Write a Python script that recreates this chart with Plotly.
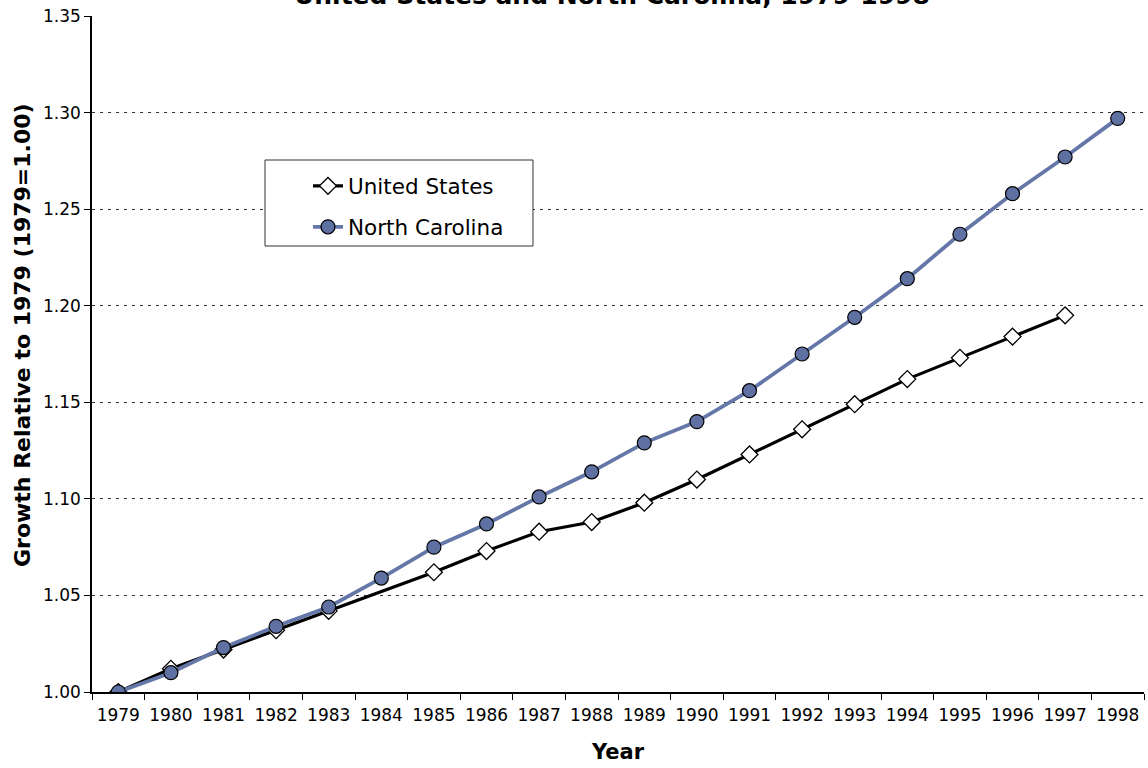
import plotly.graph_objects as go

# Annual growth indices, 1979 = 1.00
years = [str(y) for y in range(1979, 1999)]
us_growth = [1.000, 1.012, 1.022, 1.032, 1.042, None, 1.062, 1.073, 1.083, 1.088,
             1.098, 1.110, 1.123, 1.136, 1.149, 1.162, 1.173, 1.184, 1.195, None]
nc_growth = [1.000, 1.010, 1.023, 1.034, 1.044, 1.059, 1.075, 1.087, 1.101, 1.114,
             1.129, 1.140, 1.156, 1.175, 1.194, 1.214, 1.237, 1.258, 1.277, 1.297]
y_ticks = [1.00, 1.05, 1.10, 1.15, 1.20, 1.25, 1.30, 1.35]

FONT = "DejaVu Sans, Verdana, sans-serif"

fig = go.Figure()
fig.add_trace(go.Scatter(
    x=years, y=us_growth, name="United States", mode="lines+markers",
    connectgaps=True, legendgroup="us",
    line=dict(color="#000000", width=3.2),
    marker=dict(symbol="diamond", size=13, color="#ffffff",
                line=dict(color="#000000", width=1.3)),
))
fig.add_trace(go.Scatter(
    x=years, y=nc_growth, name="North Carolina", mode="lines+markers",
    legendgroup="nc",
    line=dict(color="#6577A8", width=3.8),
    marker=dict(symbol="circle", size=14, color="#5F71A3",
                line=dict(color="#000000", width=1.2)),
))

fig.update_layout(
    width=1148, height=768,
    margin=dict(l=92, r=4, t=16, b=76),
    paper_bgcolor="#ffffff", plot_bgcolor="#ffffff",
    font=dict(family=FONT, color="#000000", size=17),
    showlegend=True,
    legend=dict(x=0.2053, y=0.779, xanchor="left", yanchor="top",
                bgcolor="rgba(0,0,0,0)", borderwidth=0,
                font=dict(family=FONT, size=21.5, color="#000000"),
                traceorder="grouped", tracegroupgap=10),
    xaxis=dict(
        type="category", range=[-0.5, 19.5],
        tickson="boundaries", ticks="outside", ticklen=6, tickcolor="#000000",
        showline=True, linecolor="#000000", linewidth=1.5,
        showgrid=False, zeroline=False,
        tickfont=dict(family=FONT, size=17), ticklabelstandoff=7,
        title=dict(text="<b>Year</b>", font=dict(family=FONT, size=21), standoff=20),
    ),
    yaxis=dict(
        range=[1.0, 1.35], tickvals=y_ticks, tickformat=".2f",
        ticks="outside", ticklen=6, tickcolor="#000000",
        showline=True, linecolor="#000000", linewidth=1.5,
        showgrid=True, gridcolor="#333333", gridwidth=1, griddash="3px,5px",
        zeroline=False,
        tickfont=dict(family=FONT, size=17),
    ),
    shapes=[dict(
        type="rect", xref="paper", yref="paper",
        x0=0.16445, x1=0.4192, y0=0.65976, y1=0.78698,
        line=dict(color="#333333", width=1), fillcolor="#ffffff", layer="above",
    )],
    annotations=[
        dict(text="<b>United States and North Carolina, 1979-1998</b>",
             xref="paper", yref="paper", x=0.4943, y=1.030,
             xanchor="center", yanchor="middle", showarrow=False,
             font=dict(family=FONT, size=25, color="#000000")),
        dict(text="<b>Growth Relative to 1979 (1979=1.00)</b>",
             textangle=-90, xref="paper", yref="paper",
             x=-0.0666, y=0.528, xanchor="center", yanchor="middle",
             showarrow=False, font=dict(family=FONT, size=22, color="#000000")),
    ],
)

fig.write_html("out.html")
